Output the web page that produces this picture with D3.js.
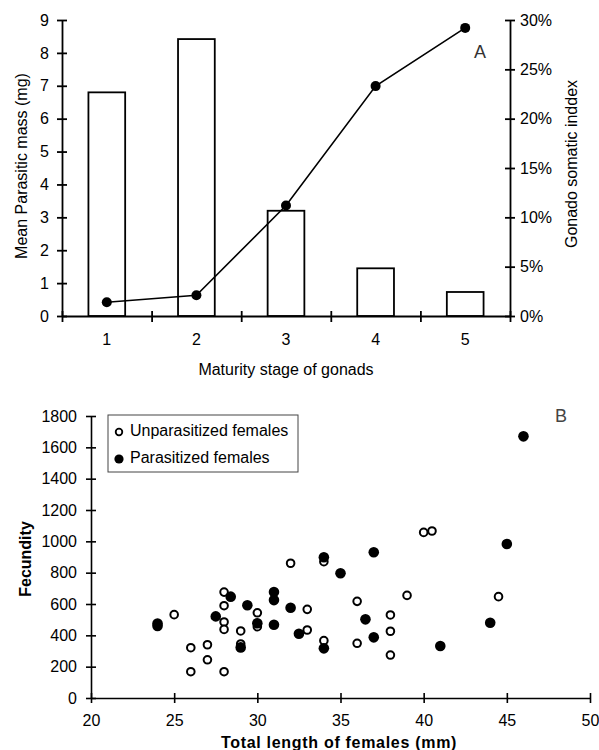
<!DOCTYPE html>
<html>
<head>
<meta charset="utf-8">
<script src="https://cdn.jsdelivr.net/npm/d3@7"></script>
<style>
  body { margin: 0; background: #fff; }
  svg { font-family: "Liberation Sans", Arial, sans-serif; }
</style>
</head>
<body>
<div id="chart"></div>
<script>
// Panel A
const stages = ["1", "2", "3", "4", "5"];
const parasiticMass = [6.8, 8.42, 3.2, 1.45, 0.73];
const gonadoIndex = [0.014, 0.021, 0.112, 0.233, 0.292];
const massTicks = [0, 1, 2, 3, 4, 5, 6, 7, 8, 9];
const indexTicks = [0, 0.05, 0.10, 0.15, 0.20, 0.25, 0.30];

// Panel B
const unparLength = [25, 26, 26, 27, 27, 28, 28, 28, 28, 28, 29, 29, 30, 30, 32, 33, 33, 34, 34, 36, 36, 38, 38, 38, 39, 40, 40.5, 44.5];
const unparFecundity = [532, 321, 168, 340, 244, 676, 589, 485, 438, 168, 428, 345, 544, 455, 860, 566, 434, 870, 366, 617, 349, 530, 426, 274, 655, 1057, 1066, 647];
const parLength = [24, 24, 27.5, 28.4, 29.4, 29, 30, 31, 31, 31, 32, 32.5, 34, 34, 35, 37, 36.5, 37, 41, 44, 45, 46];
const parFecundity = [460, 475, 521, 647, 592, 323, 477, 676, 625, 468, 576, 410, 898, 317, 796, 930, 502, 387, 332, 480, 983, 1670];
const lengthTicks = [20, 25, 30, 35, 40, 45, 50];
const fecundityTicks = [0, 200, 400, 600, 800, 1000, 1200, 1400, 1600, 1800];

const svg = d3.select("#chart").append("svg")
    .attr("width", 599)
    .attr("height", 750);

// ticks that cross the axis line on both sides
function crossTicks(g, attr, len) {
    g.selectAll(".tick line").attr(attr, len);
}

// ---------- A ----------
const xA = d3.scaleBand().domain(stages).range([62, 510]).padding(0);
const xEdge = d3.scaleLinear().domain([0, 5]).range([62, 510]);
const yMass = d3.scaleLinear().domain([0, 9]).range([316, 20]);
const yIndex = d3.scaleLinear().domain([0, 0.3]).range([316, 20]);
const barW = xA.bandwidth() * 0.41;

svg.selectAll(".bar")
    .data(stages)
    .enter()
    .append("rect")
    .attr("class", "bar")
    .attr("x", (d) => xA(d) + xA.bandwidth() / 2 - barW / 2)
    .attr("y", (d, i) => yMass(parasiticMass[i]))
    .attr("width", barW)
    .attr("height", (d, i) => yMass(0) - yMass(parasiticMass[i]))
    .attr("fill", "white")
    .attr("stroke", "black")
    .attr("stroke-width", 1.8);

const gsiLine = d3.line()
    .x((d, i) => xA(stages[i]) + xA.bandwidth() / 2)
    .y((d) => yIndex(d));

svg.append("path")
    .datum(gonadoIndex)
    .attr("fill", "none")
    .attr("stroke", "black")
    .attr("stroke-width", 1.6)
    .attr("d", gsiLine);

svg.selectAll(".gsiDot")
    .data(gonadoIndex)
    .enter()
    .append("circle")
    .attr("cx", (d, i) => xA(stages[i]) + xA.bandwidth() / 2)
    .attr("cy", (d) => yIndex(d))
    .attr("r", 5)
    .attr("fill", "black");

// axes A
const axA = svg.append("g").attr("transform", "translate(0,316)")
    .call(d3.axisBottom(xEdge).ticks(5).tickFormat("").tickSize(6).tickSizeOuter(0));
crossTicks(axA, "y1", -5);
svg.append("g").attr("transform", "translate(0,316)")
    .call(d3.axisBottom(xA).tickSize(0).tickPadding(18))
    .call((g) => g.select(".domain").remove());

const ayA = svg.append("g").attr("transform", "translate(62,0)")
    .call(d3.axisLeft(yMass).tickValues(massTicks).tickSize(5).tickSizeOuter(0).tickPadding(8));
crossTicks(ayA, "x1", 5);

const ayR = svg.append("g").attr("transform", "translate(510,0)")
    .call(d3.axisRight(yIndex).tickValues(indexTicks).tickFormat(d3.format(".0%")).tickSize(5).tickSizeOuter(0).tickPadding(5));
crossTicks(ayR, "x1", -5);

[axA, ayA, ayR].forEach((g) => g.selectAll("path, line").attr("stroke-width", 1.8));

svg.selectAll(".tick text").style("font-size", "16px").attr("fill", "black");

svg.append("text")
    .attr("transform", "translate(27,166) rotate(-90)")
    .attr("text-anchor", "middle")
    .style("font-size", "16px")
    .text("Mean Parasitic mass (mg)");

svg.append("text")
    .attr("transform", "translate(577,164) rotate(-90)")
    .attr("text-anchor", "middle")
    .style("font-size", "16px")
    .text("Gonado somatic inddex");

svg.append("text")
    .attr("x", 286)
    .attr("y", 375)
    .attr("text-anchor", "middle")
    .style("font-size", "16px")
    .text("Maturity stage of gonads");

svg.append("text")
    .attr("x", 480)
    .attr("y", 58)
    .attr("text-anchor", "middle")
    .style("font-size", "18px")
    .attr("fill", "#333")
    .text("A");

// ---------- B ----------
const xB = d3.scaleLinear().domain([20, 50]).range([91, 590]);
const yB = d3.scaleLinear().domain([0, 1800]).range([698, 416]);

svg.selectAll(".unpar")
    .data(unparLength)
    .enter()
    .append("circle")
    .attr("cx", (d) => xB(d))
    .attr("cy", (d, i) => yB(unparFecundity[i]))
    .attr("r", 3.8)
    .attr("fill", "white")
    .attr("stroke", "black")
    .attr("stroke-width", 2);

svg.selectAll(".par")
    .data(parLength)
    .enter()
    .append("circle")
    .attr("cx", (d) => xB(d))
    .attr("cy", (d, i) => yB(parFecundity[i]))
    .attr("r", 5.3)
    .attr("fill", "black");

const axB = svg.append("g").attr("transform", "translate(0,698)")
    .call(d3.axisBottom(xB).tickValues(lengthTicks).tickFormat(d3.format("d")).tickSize(5).tickSizeOuter(0).tickPadding(12));
crossTicks(axB, "y1", -5);

const ayB = svg.append("g").attr("transform", "translate(91,0)")
    .call(d3.axisLeft(yB).tickValues(fecundityTicks).tickFormat(d3.format("d")).tickSize(5).tickSizeOuter(0).tickPadding(9));
crossTicks(ayB, "x1", 5);

[axB, ayB].forEach((g) => {
    g.selectAll("path, line").attr("stroke-width", 1.6);
    g.selectAll("text").style("font-size", "16px").attr("fill", "black");
});

svg.append("text")
    .attr("transform", "translate(31,559) rotate(-90)")
    .attr("text-anchor", "middle")
    .style("font-size", "16px")
    .style("font-weight", "bold")
    .text("Fecundity");

svg.append("text")
    .attr("x", 339)
    .attr("y", 748)
    .attr("text-anchor", "middle")
    .style("font-size", "16px")
    .style("font-weight", "bold")
    .style("letter-spacing", "0.7px")
    .text("Total length of females (mm)");

svg.append("text")
    .attr("x", 561)
    .attr("y", 422)
    .attr("text-anchor", "middle")
    .style("font-size", "18px")
    .attr("fill", "#444")
    .text("B");

// legend
const legend = svg.append("g");
legend.append("rect")
    .attr("x", 108)
    .attr("y", 415)
    .attr("width", 190)
    .attr("height", 57)
    .attr("fill", "white")
    .attr("stroke", "#444")
    .attr("stroke-width", 1);

legend.append("circle")
    .attr("cx", 119).attr("cy", 432).attr("r", 3.3)
    .attr("fill", "white").attr("stroke", "black").attr("stroke-width", 1.8);
legend.append("text")
    .attr("x", 130).attr("y", 436)
    .style("font-size", "16px")
    .text("Unparasitized females");

legend.append("circle")
    .attr("cx", 119).attr("cy", 459).attr("r", 4.6)
    .attr("fill", "black");
legend.append("text")
    .attr("x", 130).attr("y", 463)
    .style("font-size", "16px")
    .text("Parasitized females");
</script>
</body>
</html>
